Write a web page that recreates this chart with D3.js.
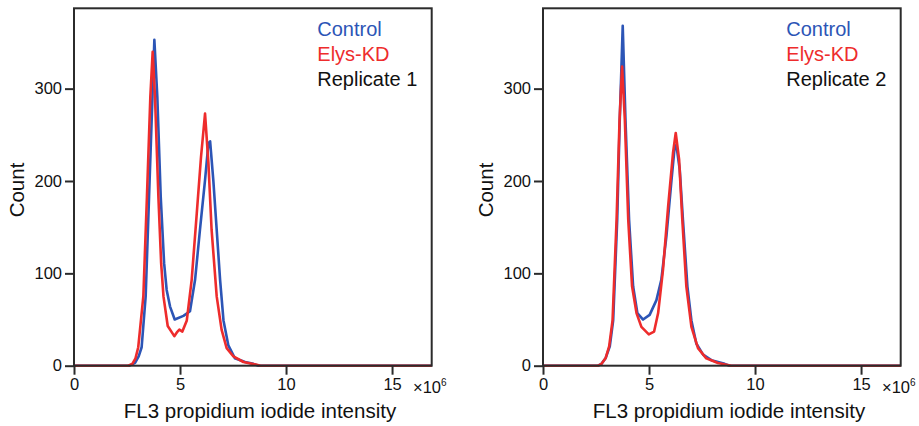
<!DOCTYPE html>
<html>
<head>
<meta charset="utf-8">
<script src="https://cdn.jsdelivr.net/npm/d3@7"></script>
<style>
  body { margin: 0; background: #fff; }
  svg { display: block; font-family: "Liberation Sans", Arial, sans-serif; }
</style>
</head>
<body>
<div id="chart"></div>
<script>
// Histogram values (intensity in units of 10^6, count per bin)
const rep1ControlX = [0, 2.6, 2.88, 3.05, 3.19, 3.38, 3.54, 3.7, 3.79, 3.93, 4.09, 4.25, 4.37, 4.53, 4.75, 5.16, 5.47, 5.71, 5.94, 6.18, 6.34, 6.42, 6.57, 6.73, 6.89, 7.05, 7.28, 7.59, 8.07, 8.46, 8.7, 16.87];
const rep1ControlCount = [0, 0, 3, 10, 20, 75, 183, 291, 353, 291, 183, 111, 82, 64, 50, 54, 59, 93, 147, 201, 241, 243, 201, 147, 93, 49, 22, 8, 4, 2, 0, 0];

const rep1ElysX = [0, 2.55, 2.75, 2.9, 3.03, 3.27, 3.44, 3.6, 3.71, 3.82, 3.98, 4.11, 4.22, 4.42, 4.73, 4.85, 4.97, 5.11, 5.32, 5.55, 5.79, 5.99, 6.18, 6.34, 6.49, 6.73, 6.96, 7.2, 7.52, 7.99, 8.62, 8.8, 16.87];
const rep1ElysCount = [0, 0, 2, 8, 20, 75, 183, 291, 340, 291, 183, 111, 75, 43, 32, 36, 39, 37, 49, 93, 165, 226, 273, 219, 147, 75, 39, 19, 10, 4, 1, 0, 0];

const rep2ControlX = [0, 2.6, 2.76, 2.95, 3.15, 3.31, 3.5, 3.62, 3.76, 3.89, 4.06, 4.25, 4.45, 4.72, 5.03, 5.35, 5.58, 5.82, 6.06, 6.21, 6.29, 6.45, 6.6, 6.81, 7.0, 7.23, 7.55, 7.94, 8.57, 8.8, 16.87];
const rep2ControlCount = [0, 0, 2, 8, 21, 49, 158, 266, 368, 266, 158, 86, 57, 50, 55, 71, 93, 140, 201, 237, 239, 212, 158, 86, 49, 24, 12, 6, 2, 0, 0];

const rep2ElysX = [0, 2.6, 2.76, 2.95, 3.12, 3.28, 3.47, 3.61, 3.73, 3.86, 4.02, 4.2, 4.41, 4.64, 4.99, 5.24, 5.43, 5.66, 5.9, 6.13, 6.26, 6.42, 6.57, 6.76, 7.0, 7.31, 7.7, 8.25, 8.88, 16.87];
const rep2ElysCount = [0, 0, 2, 8, 21, 49, 158, 266, 324, 266, 158, 86, 57, 42, 34, 37, 57, 104, 172, 230, 252, 223, 158, 86, 42, 19, 8, 3, 0, 0];

const xTicks = [0, 5, 10, 15];
const yTicks = [0, 100, 200, 300];
const seriesNames = ["Control", "Elys-KD"];
const replicateLabels = ["Replicate 1", "Replicate 2"];

const blue = "#2c55b6";
const red = "#ee2c2c";
const axisColor = "#2b2b2b";

const width = 919;
const height = 426;

const svg = d3.select('#chart').append('svg')
    .attr('width', width)
    .attr('height', height);

// Function to zip x and count arrays into points
function toPoints(xs, counts) {
    return xs.map((x, i) => ({ x: x, y: counts[i] }));
}

// Function to draw one histogram panel
function drawPanel(left, replicate, control, elys) {
    const plotW = 357.7;
    const top = 8.3;
    const bottom = 365.7;

    const x = d3.scaleLinear().domain([0, 16.87]).range([left, left + plotW]);
    const y = d3.scaleLinear().domain([0, 387]).range([bottom, top]);

    const g = svg.append('g');

    const line = d3.line()
        .x(d => x(d.x))
        .y(d => y(d.y));

    // Control first, knock-down drawn on top
    g.append('path')
        .datum(control)
        .attr('fill', 'none')
        .attr('stroke', blue)
        .attr('stroke-width', 2.6)
        .attr('stroke-linejoin', 'round')
        .attr('d', line);

    g.append('path')
        .datum(elys)
        .attr('fill', 'none')
        .attr('stroke', red)
        .attr('stroke-width', 2.6)
        .attr('stroke-linejoin', 'round')
        .attr('d', line);

    // Frame around the plot
    g.append('rect')
        .attr('x', left)
        .attr('y', top)
        .attr('width', plotW)
        .attr('height', bottom - top)
        .attr('fill', 'none')
        .attr('stroke', axisColor)
        .attr('stroke-width', 2);

    // Axes
    const xAxis = g.append('g')
        .attr('transform', `translate(0,${bottom})`)
        .call(d3.axisBottom(x).tickValues(xTicks).tickSize(9).tickPadding(4).tickFormat(d3.format('d')));
    const yAxis = g.append('g')
        .attr('transform', `translate(${left},0)`)
        .call(d3.axisLeft(y).tickValues(yTicks).tickSize(9).tickPadding(3).tickFormat(d3.format('d')));

    [xAxis, yAxis].forEach(a => {
        a.select('.domain').remove();
        a.selectAll('line').attr('stroke', axisColor).attr('stroke-width', 2);
        a.selectAll('text')
            .attr('fill', '#111')
            .style('font-size', '16.5px')
            .style('font-family', '"Liberation Sans", Arial, sans-serif');
    });

    // Exponent label next to the last tick
    const expo = g.append('text')
        .attr('x', x(15) + 21)
        .attr('y', bottom + 27)
        .attr('fill', '#111')
        .style('font-size', '16.5px');
    expo.append('tspan').text('×10');
    expo.append('tspan')
        .attr('dy', -7)
        .style('font-size', '10px')
        .text('6');

    // Axis titles
    g.append('text')
        .attr('x', left + 186)
        .attr('y', 418)
        .attr('text-anchor', 'middle')
        .attr('fill', '#111')
        .style('font-size', '20.5px')
        .text('FL3 propidium iodide intensity');

    g.append('text')
        .attr('transform', `translate(${left - 50},${(top + bottom) / 2 + 3}) rotate(-90)`)
        .attr('text-anchor', 'middle')
        .attr('fill', '#111')
        .style('font-size', '20.5px')
        .text('Count');

    // Legend
    const legendColors = [blue, red, '#111'];
    const legendText = seriesNames.concat([replicate]);
    legendText.forEach((t, i) => {
        g.append('text')
            .attr('x', left + 243.3)
            .attr('y', 35.7 + i * 25)
            .attr('fill', legendColors[i])
            .style('font-size', '20px')
            .text(t);
    });
}

drawPanel(74, replicateLabels[0], toPoints(rep1ControlX, rep1ControlCount), toPoints(rep1ElysX, rep1ElysCount));
drawPanel(543, replicateLabels[1], toPoints(rep2ControlX, rep2ControlCount), toPoints(rep2ElysX, rep2ElysCount));
</script>
</body>
</html>
